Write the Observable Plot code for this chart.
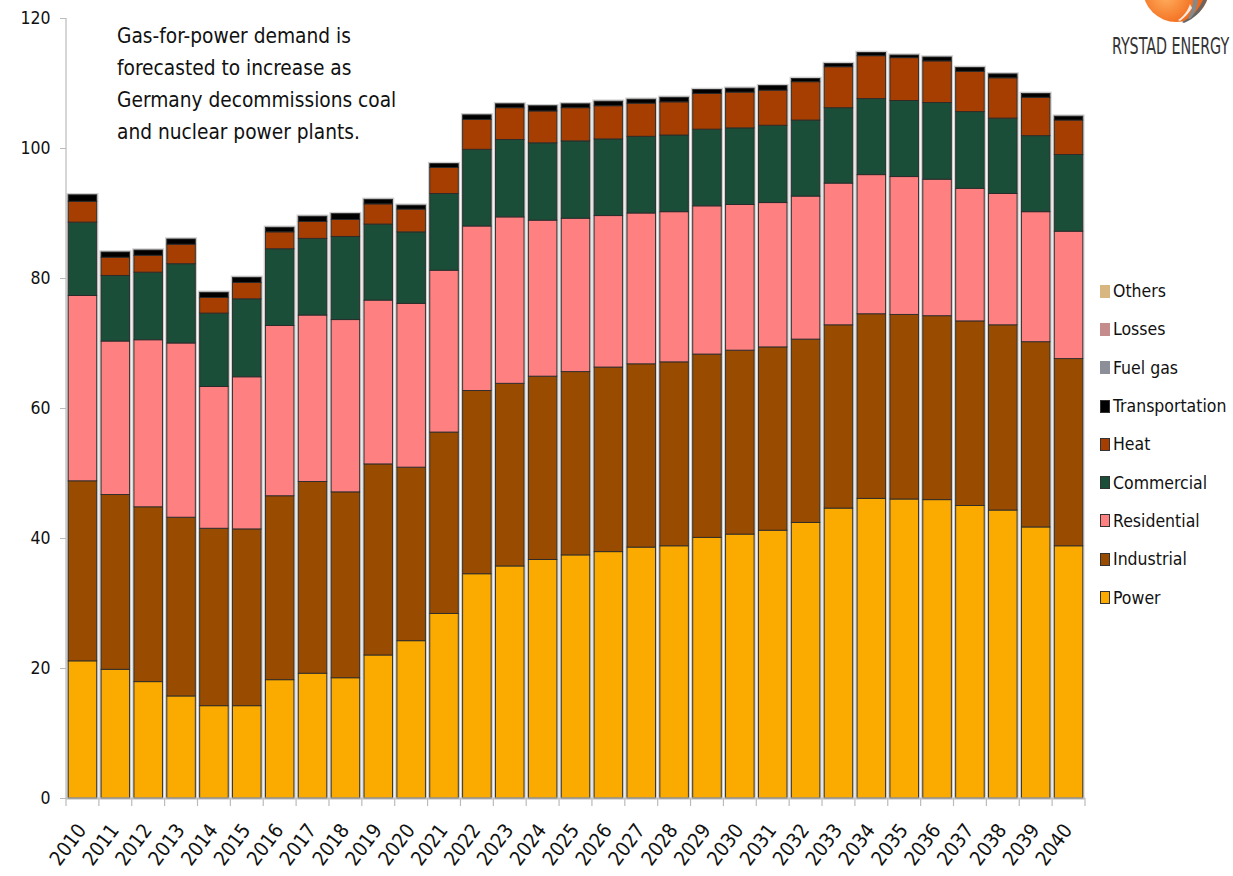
<!DOCTYPE html>
<html>
<head>
<meta charset="utf-8">
<script src="https://cdn.jsdelivr.net/npm/d3@7"></script>
<script src="https://cdn.jsdelivr.net/npm/@observablehq/plot@0.6"></script>
<style>
html,body{margin:0;padding:0;background:#fff;overflow:hidden;width:1233px;height:876px}
#wrap{position:relative;width:1233px;height:876px;overflow:hidden;font-family:"DejaVu Sans Condensed","DejaVu Sans",sans-serif;color:#111}
#chart{position:absolute;left:0;top:0}
#chart g[aria-label="y-axis tick label"], #chart g[aria-label="y-axis tick label"] text{font-size:17.5px !important}
#chart g[aria-label="x-axis tick label"], #chart g[aria-label="x-axis tick label"] text{font-size:20px !important}
#note{position:absolute;left:117px;top:19.5px;font-size:20.7px;line-height:32px;white-space:nowrap}
#legend{position:absolute;left:1100px;top:272px}
.item{height:38.3px;display:flex;align-items:center;font-size:17.5px;white-space:nowrap}
.sw{width:8px;height:11px;margin-right:3px;border:1px solid #333;box-sizing:content-box}
#logo{position:absolute;left:1112px;top:33px;font-size:23px;color:#333;white-space:nowrap;transform:scaleX(0.69);transform-origin:left top}
#globe{position:absolute;left:1138px;top:-14px}
</style>
</head>
<body>
<div id="wrap">
  <div id="chart"></div>
  <div id="note"></div>
  <div id="legend"></div>
  <svg id="globe" width="80" height="40" viewBox="0 0 80 40">
    <defs>
      <radialGradient id="g1" cx="0.35" cy="0.6" r="0.8">
        <stop offset="0" stop-color="#ffb060"/>
        <stop offset="0.6" stop-color="#f26a1b"/>
        <stop offset="1" stop-color="#d9480f"/>
      </radialGradient>
    </defs>
    <circle cx="38" cy="3" r="33" fill="url(#g1)"/>
    <path d="M44 36 C56 30 64 20 68 6 L72 4 C68 22 58 32 46 37 Z" fill="#666"/>
    <path d="M50 32 C54 24 56 16 55 6 L60 6 C61 18 58 26 52 33 Z" fill="#888"/>
    <path d="M40 34 C46 30 50 24 52 18 L54 22 C50 28 46 32 42 35 Z" fill="#fff" opacity="0.85"/>
  </svg>
  <div id="logo">RYSTAD ENERGY</div>
</div>
<script>
// ---- data ----
const years = ["2010","2011","2012","2013","2014","2015","2016","2017","2018","2019","2020",
  "2021","2022","2023","2024","2025","2026","2027","2028","2029","2030",
  "2031","2032","2033","2034","2035","2036","2037","2038","2039","2040"];

const power = [21.1,19.8,17.9,15.7,14.2,14.2,18.2,19.2,18.5,22.0,24.2,
  28.4,34.5,35.7,36.7,37.4,37.9,38.6,38.8,40.1,40.6,
  41.2,42.4,44.6,46.1,46.0,45.9,45.0,44.3,41.7,38.8];
const industrial = [27.7,26.9,26.9,27.5,27.3,27.2,28.3,29.5,28.6,29.4,26.7,
  27.9,28.2,28.1,28.2,28.2,28.4,28.2,28.3,28.2,28.3,
  28.2,28.2,28.2,28.4,28.4,28.3,28.4,28.5,28.5,28.8];
const residential = [28.5,23.6,25.7,26.8,21.8,23.4,26.2,25.6,26.5,25.2,25.2,
  24.9,25.3,25.6,24.0,23.6,23.3,23.2,23.1,22.8,22.4,
  22.2,22.0,21.8,21.4,21.2,21.0,20.4,20.2,20.0,19.6];
const commercial = [11.3,10.1,10.4,12.2,11.3,12.0,11.8,11.8,12.8,11.7,11.0,
  11.8,11.8,11.9,11.9,11.9,11.8,11.8,11.8,11.8,11.8,
  11.9,11.7,11.6,11.7,11.7,11.8,11.8,11.6,11.7,11.8];
const heat = [3.2,2.8,2.6,3.0,2.4,2.5,2.6,2.6,2.6,3.1,3.5,
  4.0,4.6,4.9,4.9,5.1,5.1,5.1,5.1,5.5,5.5,
  5.4,5.9,6.3,6.6,6.6,6.4,6.2,6.2,5.9,5.3];
const transportation = [1.0,0.8,0.8,0.8,0.8,0.8,0.7,0.8,0.9,0.7,0.6,
  0.6,0.7,0.6,0.8,0.6,0.7,0.6,0.7,0.6,0.6,
  0.7,0.5,0.5,0.5,0.4,0.6,0.6,0.6,0.6,0.6];
const fuelGas = years.map(() => 0);
const losses = years.map(() => 0);
const others = years.map(() => 0);

const seriesNames = ["Power","Industrial","Residential","Commercial","Heat","Transportation","Fuel gas","Losses","Others"];
const seriesColors = ["#FBAA00","#994C00","#FF8080","#1B4E38","#A53E00","#000000","#8D8F98","#C48C8C","#D8B680"];
const seriesValues = [power,industrial,residential,commercial,heat,transportation,fuelGas,losses,others];
const yTicks = [0,20,40,60,80,100,120];
const noteLines = ["Gas-for-power demand is","forecasted to increase as","Germany decommissions coal","and nuclear power plants."];

// ---- table for Plot ----
const rows = [];
years.forEach((yr, i) => {
  seriesNames.forEach((s, k) => rows.push({year: yr, series: s, value: seriesValues[k][i]}));
});

const font = '"DejaVu Sans Condensed","DejaVu Sans",sans-serif';

const plot = Plot.plot({
  width: 1233,
  height: 876,
  marginLeft: 66,
  marginTop: 18,
  marginBottom: 78,
  marginRight: 148,
  style: {fontFamily: font, fontSize: "17.5px", color: "#111", background: "transparent"},
  x: {type: "band", domain: years, range: [66, 1085], round: false, paddingInner: 0.133, paddingOuter: 0.067, label: null},
  y: {domain: [0, 120], range: [798, 18], label: null},
  color: {domain: seriesNames, range: seriesColors},
  marks: [
    Plot.barY(rows, Plot.groupX({y: "sum"}, {x: "year", y: "value", fill: "none", stroke: "#cfcfcf", strokeWidth: 3.5})),
    Plot.barY(rows, Plot.stackY({x: "year", y: "value", fill: "series", order: seriesNames, stroke: "#2a2a2a", strokeWidth: 0.9})),
    Plot.axisY({ticks: yTicks, tickSize: 6, tickPadding: 10, stroke: "#bbb", fontSize: 17.5, label: null}),
    Plot.axisX({tickSize: 0, tickPadding: 28, dx: -1, tickRotate: -53, fontSize: 20, label: null})
  ]
});
document.getElementById("chart").appendChild(plot);

// axis lines and between-category ticks, positioned by Plot's scales
const xs = plot.scale("x"), ys = plot.scale("y");
const svg = d3.select(plot);
const g = svg.append("g").attr("stroke", "#bbb").attr("stroke-width", 1.2);
const y0 = ys.apply(0), yTop = ys.apply(120);
const gap = (xs.step - xs.bandwidth) / 2;
const xLeft = xs.apply(years[0]) - xs.step * xs.paddingOuter;
const xRight = xs.apply(years[years.length - 1]) + xs.bandwidth + xs.step * xs.paddingOuter;
g.append("line").attr("x1", xLeft).attr("x2", xLeft).attr("y1", yTop).attr("y2", y0);
g.append("line").attr("x1", xLeft).attr("x2", xRight).attr("y1", y0).attr("y2", y0);
const bounds = years.map(yr => xs.apply(yr) - gap);
bounds.push(xs.apply(years[years.length - 1]) + xs.bandwidth + gap);
g.selectAll("line.b").data(bounds).join("line").attr("class", "b")
  .attr("x1", d => d).attr("x2", d => d).attr("y1", y0).attr("y2", y0 + 8);

// annotation
document.getElementById("note").innerHTML = noteLines.map(l => `<div>${l}</div>`).join("");

// legend (top to bottom reversed like the reference)
const legend = document.getElementById("legend");
seriesNames.slice().reverse().forEach(name => {
  const c = seriesColors[seriesNames.indexOf(name)];
  const it = document.createElement("div");
  it.className = "item";
  it.innerHTML = `<span class="sw" style="background:${c};border-color:${name==="Others"||name==="Losses"||name==="Fuel gas" ? c : "#333"}"></span><span>${name}</span>`;
  legend.appendChild(it);
});
</script>
</body>
</html>
